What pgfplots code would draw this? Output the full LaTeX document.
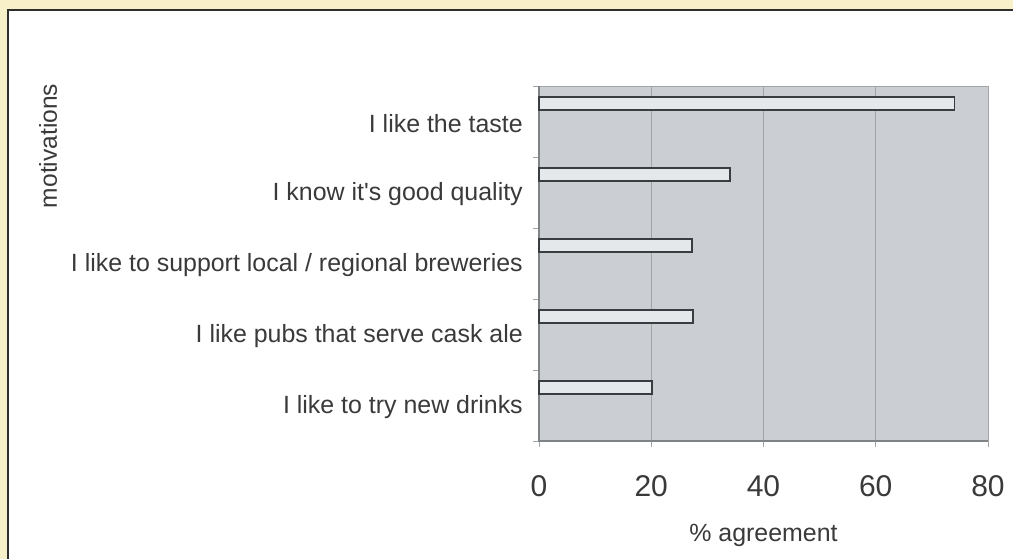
\documentclass[border=0pt]{standalone}
\usepackage{pgfplots}
\pgfplotsset{compat=1.18}
\usepackage{fontspec}
\setmainfont{Liberation Sans}
\definecolor{bgyellow}{HTML}{F8F0C8}
\definecolor{plotbg}{HTML}{CBCED2}
\definecolor{barfill}{HTML}{E5E8EB}
\definecolor{baredge}{HTML}{3A3D40}
\definecolor{gridc}{HTML}{A2A5A8}
\definecolor{axisc}{HTML}{808386}
\definecolor{txt}{HTML}{3A3A3A}
\definecolor{framec}{HTML}{2E2E2E}
\begin{document}
\begin{tikzpicture}
\useasboundingbox (0,0) rectangle (759.75pt,419.25pt);
\fill[bgyellow] (0,0) rectangle (759.75pt,419.25pt);
\fill[white] (6pt,0) rectangle (760pt,411.75pt);
\draw[framec,line width=1.1pt] (6pt,-1pt) -- (6pt,411.75pt) -- (761pt,411.75pt);
\begin{axis}[
  at={(404.25pt,88.5pt)}, anchor=south west,
  scale only axis, width=336.75pt, height=266.25pt,
  xbar, bar width=9.5pt, bar shift=13.5pt,
  xmin=0, xmax=80, ymin=-0.5, ymax=4.5,
  xtick={0,20,40,60,80},
  ytick={0,1,2,3,4},
  yticklabels={I like to try new drinks, I like pubs that serve cask ale, I like to support local / regional breweries, I know it\textquotesingle s good quality, I like the taste},
  minor ytick={-0.5,0.5,1.5,2.5,3.5,4.5},
  axis background/.style={fill=plotbg},
  axis line style={gridc},
  axis on top=false,
  xmajorgrids, major grid style={gridc, line width=0.6pt},
  tick align=outside,
  major tick length=4.5pt, minor tick length=4.5pt,
  x tick style={gridc, line width=0.6pt},
  xtick pos=bottom, ytick pos=left,
  y tick style={gridc, line width=0.6pt},
  major y tick style={draw=none},
  /pgf/number format/assume math mode=true,
  xticklabel style={font=\fontsize{22.5pt}{26pt}\selectfont, text=txt, yshift=-18pt},
  yticklabel style={font=\fontsize{18.7pt}{22pt}\selectfont, text=txt, anchor=east, inner sep=0pt, xshift=-7.5pt, yshift=-1.5pt},
  xlabel={\% agreement},
  ylabel={motivations},
  every axis x label/.style={at={(axis description cs:0.5,0)}, anchor=center, yshift=-71pt, font=\fontsize{18.7pt}{22pt}\selectfont, text=txt},
  every axis y label/.style={at={(axis description cs:-1.0935,0.831)}, anchor=center, rotate=90, font=\fontsize{18.4pt}{22pt}\selectfont, text=txt},
  clip=false,
]
\draw[axisc, line width=0.9pt] (rel axis cs:0,1) -- (rel axis cs:0,0) -- (rel axis cs:1,0);
\addplot[fill=barfill, draw=baredge, line width=1.2pt] coordinates {(20.1,0) (27.4,1) (27.3,2) (34,3) (74,4)};
\end{axis}
\end{tikzpicture}
\end{document}
